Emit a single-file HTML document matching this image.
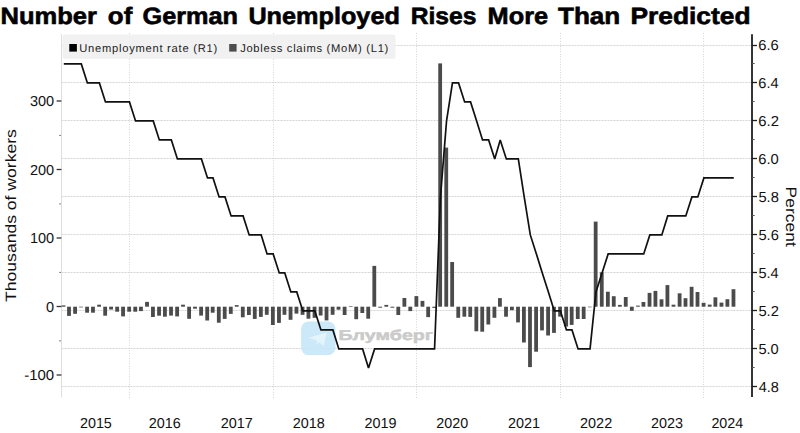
<!DOCTYPE html><html><head><meta charset="utf-8"><title>Number of German Unemployed Rises More Than Predicted</title>
<style>html,body{margin:0;padding:0;background:#fff;}body{width:800px;height:433px;overflow:hidden;}svg{display:block;font-family:"Liberation Sans",sans-serif;}</style></head><body>
<svg width="800" height="433" viewBox="0 0 800 433" text-rendering="geometricPrecision">
<rect x="0" y="0" width="800" height="433" fill="#fff"/>
<g fill="#000" stroke="#000" stroke-width="0.6">
<text transform="translate(0.48,24.40) scale(1.0818,1)" font-size="23.6" font-weight="bold">Number</text>
<text transform="translate(107.87,24.40) scale(1.0956,1)" font-size="23.6" font-weight="bold">of</text>
<text transform="translate(142.49,24.40) scale(1.0716,1)" font-size="23.6" font-weight="bold">German</text>
<text transform="translate(248.39,24.40) scale(1.0696,1)" font-size="23.6" font-weight="bold">Unemployed</text>
<text transform="translate(410.64,24.40) scale(1.0444,1)" font-size="23.6" font-weight="bold">Rises</text>
<text transform="translate(487.59,24.40) scale(1.0744,1)" font-size="23.6" font-weight="bold">More</text>
<text transform="translate(558.04,24.40) scale(1.1043,1)" font-size="23.6" font-weight="bold">Than</text>
<text transform="translate(630.42,24.40) scale(1.1175,1)" font-size="23.6" font-weight="bold">Predicted</text>
</g>
<g stroke="#d4d4d4" stroke-width="1" stroke-dasharray="2 1" fill="none">
<line x1="61.5" y1="45.5" x2="752.0" y2="45.5"/>
<line x1="61.5" y1="82.50000000000003" x2="752.0" y2="82.50000000000003"/>
<line x1="61.5" y1="120.50000000000007" x2="752.0" y2="120.50000000000007"/>
<line x1="61.5" y1="158.49999999999994" x2="752.0" y2="158.49999999999994"/>
<line x1="61.5" y1="196.49999999999997" x2="752.0" y2="196.49999999999997"/>
<line x1="61.5" y1="234.5" x2="752.0" y2="234.5"/>
<line x1="61.5" y1="272.5" x2="752.0" y2="272.5"/>
<line x1="61.5" y1="310.50000000000006" x2="752.0" y2="310.50000000000006"/>
<line x1="61.5" y1="348.49999999999994" x2="752.0" y2="348.49999999999994"/>
<line x1="61.5" y1="386.49999999999994" x2="752.0" y2="386.49999999999994"/>
</g>
<g stroke="#d6d6d6" stroke-width="1" stroke-dasharray="1 1.6" fill="none">
<line x1="129.5" y1="33.0" x2="129.5" y2="399.5"/>
<line x1="273.5" y1="33.0" x2="273.5" y2="399.5"/>
<line x1="416.5" y1="33.0" x2="416.5" y2="399.5"/>
<line x1="560.5" y1="33.0" x2="560.5" y2="399.5"/>
<line x1="703.5" y1="33.0" x2="703.5" y2="399.5"/>
</g>
<line x1="61.5" y1="34.0" x2="61.5" y2="397.5" stroke="#dedede" stroke-width="1"/>
<rect x="62.5" y="34.5" width="333" height="24.3" rx="2" fill="#f1f1f1"/>
<rect x="69.3" y="44" width="7.6" height="7.6" fill="#000"/>
<rect x="229.2" y="44" width="7.4" height="7.6" fill="#4d4d4d"/>
<g fill="#222">
<text x="79.23" y="51.60" letter-spacing="0.735" font-size="11.2">Unemployment rate (R1)</text>
<text x="240.13" y="51.60" letter-spacing="0.709" font-size="11.2">Jobless claims (MoM) (L1)</text>
</g>
<g opacity="0.9">
<rect x="301.1" y="321.6" width="34.4" height="33.5" rx="7.5" fill="#c6e7f8"/>
<path d="M308.2,337.8 L326.6,332.6 L323.6,346.3 L319.4,342.2 L316.6,344.6 L316.8,340.4 Z" fill="#e2f3fb"/>
</g>
<g fill="#cacaca" stroke="#cacaca" stroke-width="0.5"><text transform="translate(338.47,340.00) scale(1.3741,1)" font-size="14.3" font-weight="bold">Блумберг</text></g>
<g fill="#4b4b4b">
<rect x="61.59" y="305.40" width="3.80" height="1.30"/>
<rect x="67.10" y="306.70" width="3.80" height="9.20"/>
<rect x="73.19" y="306.70" width="3.80" height="7.10"/>
<rect x="79.09" y="306.70" width="3.80" height="0.70"/>
<rect x="85.18" y="306.70" width="3.80" height="6.00"/>
<rect x="91.08" y="306.70" width="3.80" height="6.00"/>
<rect x="97.18" y="304.70" width="3.80" height="2.00"/>
<rect x="103.27" y="306.70" width="3.80" height="9.00"/>
<rect x="109.17" y="306.70" width="3.80" height="2.80"/>
<rect x="115.26" y="306.70" width="3.80" height="5.00"/>
<rect x="121.16" y="306.70" width="3.80" height="9.70"/>
<rect x="127.25" y="306.70" width="3.80" height="5.00"/>
<rect x="133.35" y="306.70" width="3.80" height="5.00"/>
<rect x="139.05" y="306.70" width="3.80" height="4.40"/>
<rect x="145.14" y="301.90" width="3.80" height="4.80"/>
<rect x="151.04" y="306.70" width="3.80" height="10.30"/>
<rect x="157.14" y="306.70" width="3.80" height="9.00"/>
<rect x="163.03" y="306.70" width="3.80" height="10.00"/>
<rect x="169.13" y="306.70" width="3.80" height="8.90"/>
<rect x="175.22" y="306.70" width="3.80" height="9.70"/>
<rect x="181.12" y="304.70" width="3.80" height="2.00"/>
<rect x="187.21" y="306.70" width="3.80" height="12.10"/>
<rect x="193.11" y="306.70" width="3.80" height="2.00"/>
<rect x="199.21" y="306.70" width="3.80" height="8.90"/>
<rect x="205.30" y="306.70" width="3.80" height="13.80"/>
<rect x="210.80" y="306.70" width="3.80" height="6.00"/>
<rect x="216.90" y="306.70" width="3.80" height="16.00"/>
<rect x="222.80" y="306.70" width="3.80" height="12.20"/>
<rect x="228.89" y="306.70" width="3.80" height="7.20"/>
<rect x="234.79" y="305.10" width="3.80" height="1.60"/>
<rect x="240.88" y="306.70" width="3.80" height="10.60"/>
<rect x="246.98" y="306.70" width="3.80" height="8.30"/>
<rect x="252.87" y="306.70" width="3.80" height="12.20"/>
<rect x="258.97" y="306.70" width="3.80" height="10.20"/>
<rect x="264.87" y="306.70" width="3.80" height="8.10"/>
<rect x="270.96" y="306.70" width="3.80" height="18.30"/>
<rect x="277.06" y="306.70" width="3.80" height="16.20"/>
<rect x="282.56" y="306.70" width="3.80" height="8.10"/>
<rect x="288.65" y="306.70" width="3.80" height="13.10"/>
<rect x="294.55" y="306.70" width="3.80" height="6.90"/>
<rect x="300.65" y="306.70" width="3.80" height="8.10"/>
<rect x="306.54" y="306.70" width="3.80" height="12.00"/>
<rect x="312.64" y="306.70" width="3.80" height="11.10"/>
<rect x="318.73" y="306.70" width="3.80" height="8.80"/>
<rect x="324.63" y="306.70" width="3.80" height="13.70"/>
<rect x="330.72" y="306.70" width="3.80" height="8.10"/>
<rect x="336.62" y="306.70" width="3.80" height="3.00"/>
<rect x="342.72" y="306.70" width="3.80" height="8.30"/>
<rect x="348.81" y="306.10" width="3.80" height="0.60"/>
<rect x="354.32" y="306.70" width="3.80" height="12.50"/>
<rect x="360.41" y="306.70" width="3.80" height="6.30"/>
<rect x="366.31" y="306.70" width="3.80" height="12.00"/>
<rect x="372.40" y="265.90" width="3.80" height="40.80"/>
<rect x="378.30" y="306.70" width="3.80" height="1.00"/>
<rect x="384.39" y="304.90" width="3.80" height="1.80"/>
<rect x="390.49" y="306.70" width="3.80" height="1.00"/>
<rect x="396.39" y="306.70" width="3.80" height="8.30"/>
<rect x="402.48" y="298.00" width="3.80" height="8.70"/>
<rect x="408.38" y="306.70" width="3.80" height="4.40"/>
<rect x="414.47" y="296.10" width="3.80" height="10.60"/>
<rect x="420.57" y="300.90" width="3.80" height="5.80"/>
<rect x="426.27" y="306.70" width="3.80" height="10.40"/>
<rect x="432.36" y="306.70" width="3.80" height="1.20"/>
<rect x="438.26" y="63.40" width="3.80" height="243.30"/>
<rect x="444.35" y="147.60" width="3.80" height="159.10"/>
<rect x="450.25" y="262.00" width="3.80" height="44.70"/>
<rect x="456.35" y="306.70" width="3.80" height="11.10"/>
<rect x="462.44" y="306.70" width="3.80" height="10.00"/>
<rect x="468.34" y="306.70" width="3.80" height="10.20"/>
<rect x="474.43" y="306.70" width="3.80" height="24.60"/>
<rect x="480.33" y="306.70" width="3.80" height="25.00"/>
<rect x="486.42" y="306.70" width="3.80" height="17.80"/>
<rect x="492.52" y="306.70" width="3.80" height="11.10"/>
<rect x="498.02" y="298.10" width="3.80" height="8.60"/>
<rect x="504.12" y="306.70" width="3.80" height="10.00"/>
<rect x="510.01" y="306.70" width="3.80" height="3.50"/>
<rect x="516.11" y="306.70" width="3.80" height="15.70"/>
<rect x="522.01" y="306.70" width="3.80" height="35.80"/>
<rect x="528.10" y="306.70" width="3.80" height="60.40"/>
<rect x="534.20" y="306.70" width="3.80" height="45.00"/>
<rect x="540.09" y="306.70" width="3.80" height="23.70"/>
<rect x="546.19" y="306.70" width="3.80" height="28.80"/>
<rect x="552.08" y="306.70" width="3.80" height="26.20"/>
<rect x="558.18" y="306.70" width="3.80" height="9.90"/>
<rect x="564.27" y="306.70" width="3.80" height="19.80"/>
<rect x="569.78" y="306.70" width="3.80" height="18.20"/>
<rect x="575.87" y="306.70" width="3.80" height="12.30"/>
<rect x="581.77" y="306.70" width="3.80" height="12.30"/>
<rect x="587.86" y="306.70" width="3.80" height="0.60"/>
<rect x="593.76" y="221.60" width="3.80" height="85.10"/>
<rect x="599.86" y="272.30" width="3.80" height="34.40"/>
<rect x="605.95" y="291.70" width="3.80" height="15.00"/>
<rect x="611.85" y="296.20" width="3.80" height="10.50"/>
<rect x="617.94" y="304.90" width="3.80" height="1.80"/>
<rect x="623.84" y="297.00" width="3.80" height="9.70"/>
<rect x="629.93" y="306.70" width="3.80" height="4.10"/>
<rect x="636.03" y="305.60" width="3.80" height="1.10"/>
<rect x="641.53" y="302.00" width="3.80" height="4.70"/>
<rect x="647.63" y="292.90" width="3.80" height="13.80"/>
<rect x="653.53" y="290.90" width="3.80" height="15.80"/>
<rect x="659.62" y="299.30" width="3.80" height="7.40"/>
<rect x="665.52" y="285.10" width="3.80" height="21.60"/>
<rect x="671.61" y="304.70" width="3.80" height="2.00"/>
<rect x="677.71" y="293.30" width="3.80" height="13.40"/>
<rect x="683.60" y="298.20" width="3.80" height="8.50"/>
<rect x="689.70" y="286.80" width="3.80" height="19.90"/>
<rect x="695.60" y="292.00" width="3.80" height="14.70"/>
<rect x="701.69" y="302.80" width="3.80" height="3.90"/>
<rect x="707.78" y="304.60" width="3.80" height="2.10"/>
<rect x="713.49" y="297.30" width="3.80" height="9.40"/>
<rect x="719.58" y="302.60" width="3.80" height="4.10"/>
<rect x="725.48" y="299.20" width="3.80" height="7.50"/>
<rect x="731.57" y="289.20" width="3.80" height="17.50"/>
</g>
<polyline points="63.79,63.90 69.30,63.90 75.39,63.90 81.29,63.90 87.38,82.90 93.28,82.90 99.38,82.90 105.47,101.90 111.37,101.90 117.46,101.90 123.36,101.90 129.45,101.90 135.55,120.90 141.25,120.90 147.34,120.90 153.24,120.90 159.34,139.90 165.23,139.90 171.33,139.90 177.42,158.90 183.32,158.90 189.41,158.90 195.31,158.90 201.41,158.90 207.50,177.90 213.00,177.90 219.10,196.90 225.00,196.90 231.09,215.90 236.99,215.90 243.08,215.90 249.18,234.90 255.07,234.90 261.17,234.90 267.07,253.90 273.16,253.90 279.26,272.90 284.76,272.90 290.85,291.90 296.75,291.90 302.85,310.90 308.74,310.90 314.84,310.90 320.93,329.90 326.83,329.90 332.92,329.90 338.82,348.90 344.92,348.90 351.01,348.90 356.52,348.90 362.61,348.90 368.51,367.90 374.60,348.90 380.50,348.90 386.59,348.90 392.69,348.90 398.59,348.90 404.68,348.90 410.58,348.90 416.67,348.90 422.77,348.90 428.47,348.90 434.56,348.90 440.46,196.90 446.55,120.90 452.45,82.90 458.55,82.90 464.64,101.90 470.54,101.90 476.63,120.90 482.53,139.90 488.62,139.90 494.72,158.90 500.22,139.90 506.32,158.90 512.21,158.90 518.31,158.90 524.21,196.90 530.30,234.90 536.40,253.90 542.29,272.90 548.39,291.90 554.28,310.90 560.38,310.90 566.47,329.90 571.98,329.90 578.07,348.90 583.97,348.90 590.06,348.90 595.96,291.90 602.06,272.90 608.15,253.90 614.05,253.90 620.14,253.90 626.04,253.90 632.13,253.90 638.23,253.90 643.73,253.90 649.83,234.90 655.73,234.90 661.82,234.90 667.72,215.90 673.81,215.90 679.91,215.90 685.80,215.90 691.90,196.90 697.80,196.90 703.89,177.90 709.98,177.90 715.69,177.90 721.78,177.90 727.68,177.90 733.77,177.90" fill="none" stroke="#111" stroke-width="1.7" stroke-linejoin="miter" stroke-miterlimit="3"/>
<line x1="752" y1="34.3" x2="752" y2="397" stroke="#1e1e1e" stroke-width="1.8"/>
<g stroke="#1e1e1e" stroke-width="1.3">
<line x1="752" y1="45.5" x2="757" y2="45.5"/>
<line x1="752" y1="82.5" x2="757" y2="82.5"/>
<line x1="752" y1="120.5" x2="757" y2="120.5"/>
<line x1="752" y1="158.5" x2="757" y2="158.5"/>
<line x1="752" y1="196.5" x2="757" y2="196.5"/>
<line x1="752" y1="234.5" x2="757" y2="234.5"/>
<line x1="752" y1="272.5" x2="757" y2="272.5"/>
<line x1="752" y1="310.5" x2="757" y2="310.5"/>
<line x1="752" y1="348.5" x2="757" y2="348.5"/>
<line x1="752" y1="386.5" x2="757" y2="386.5"/>
<line x1="752" y1="63.5" x2="754.6" y2="63.5" stroke-width="1" stroke="#555"/>
<line x1="752" y1="101.5" x2="754.6" y2="101.5" stroke-width="1" stroke="#555"/>
<line x1="752" y1="139.5" x2="754.6" y2="139.5" stroke-width="1" stroke="#555"/>
<line x1="752" y1="177.5" x2="754.6" y2="177.5" stroke-width="1" stroke="#555"/>
<line x1="752" y1="215.5" x2="754.6" y2="215.5" stroke-width="1" stroke="#555"/>
<line x1="752" y1="253.5" x2="754.6" y2="253.5" stroke-width="1" stroke="#555"/>
<line x1="752" y1="291.5" x2="754.6" y2="291.5" stroke-width="1" stroke="#555"/>
<line x1="752" y1="329.5" x2="754.6" y2="329.5" stroke-width="1" stroke="#555"/>
<line x1="752" y1="367.5" x2="754.6" y2="367.5" stroke-width="1" stroke="#555"/>
</g>
<g fill="#111">
<text transform="translate(758.26,49.60) scale(1.0205,1)" font-size="14.5">6.6</text>
<text transform="translate(758.27,87.60) scale(1.0089,1)" font-size="14.5">6.4</text>
<text transform="translate(758.26,125.60) scale(1.0265,1)" font-size="14.5">6.2</text>
<text transform="translate(758.26,163.60) scale(1.0166,1)" font-size="14.5">6.0</text>
<text transform="translate(758.41,201.60) scale(1.0127,1)" font-size="14.5">5.8</text>
<text transform="translate(758.41,239.60) scale(1.0127,1)" font-size="14.5">5.6</text>
<text transform="translate(758.42,277.60) scale(1.0012,1)" font-size="14.5">5.4</text>
<text transform="translate(758.41,315.60) scale(1.0186,1)" font-size="14.5">5.2</text>
<text transform="translate(758.41,353.60) scale(1.0089,1)" font-size="14.5">5.0</text>
<text transform="translate(758.67,391.60) scale(0.9993,1)" font-size="14.5">4.8</text>
</g>
<g stroke="#333" stroke-width="1.3">
<line x1="56.6" y1="101.0" x2="61.4" y2="101.0"/>
<line x1="56.6" y1="169.5" x2="61.4" y2="169.5"/>
<line x1="56.6" y1="238.0" x2="61.4" y2="238.0"/>
<line x1="56.6" y1="306.5" x2="61.4" y2="306.5"/>
<line x1="56.6" y1="375.0" x2="61.4" y2="375.0"/>
<line x1="59.2" y1="135.4" x2="61" y2="135.4" stroke="#777" stroke-width="1"/>
<line x1="59.2" y1="203.9" x2="61" y2="203.9" stroke="#777" stroke-width="1"/>
<line x1="59.2" y1="272.4" x2="61" y2="272.4" stroke="#777" stroke-width="1"/>
<line x1="59.2" y1="340.9" x2="61" y2="340.9" stroke="#777" stroke-width="1"/>
</g>
<g fill="#111">
<text transform="translate(29.97,106.30)" font-size="14.5">300</text>
<text transform="translate(29.97,174.80)" font-size="14.5">200</text>
<text transform="translate(29.97,243.30)" font-size="14.5">100</text>
<text transform="translate(46.10,311.80)" font-size="14.5">0</text>
<text transform="translate(24.23,380.30) scale(1.0322,1)" font-size="14.5">-100</text>
</g>
<g fill="#111">
<text transform="translate(79.93,428.40) scale(0.9896,1)" font-size="14.5">2015</text>
<text transform="translate(148.73,428.40) scale(0.9908,1)" font-size="14.5">2016</text>
<text transform="translate(220.73,428.40) scale(0.9943,1)" font-size="14.5">2017</text>
<text transform="translate(292.73,428.40) scale(0.9908,1)" font-size="14.5">2018</text>
<text transform="translate(364.43,428.40) scale(0.9919,1)" font-size="14.5">2019</text>
<text transform="translate(436.23,428.40) scale(0.9885,1)" font-size="14.5">2020</text>
<text transform="translate(507.93,428.40) scale(0.9931,1)" font-size="14.5">2021</text>
<text transform="translate(580.08,428.40) scale(0.9943,1)" font-size="14.5">2022</text>
<text transform="translate(651.08,428.40) scale(0.9908,1)" font-size="14.5">2023</text>
<text transform="translate(711.39,428.40) scale(0.9838,1)" font-size="14.5">2024</text>
</g>
<g transform="translate(15.6,0) rotate(-90)" fill="#111"><text transform="translate(-301.90,0.00) scale(1.1704,1)" font-size="15.0">Thousands of workers</text></g>
<g transform="translate(785.8,0) rotate(90)" fill="#111"><text transform="translate(186.56,0.00) scale(1.1644,1)" font-size="15.0">Percent</text></g>
</svg></body></html>
